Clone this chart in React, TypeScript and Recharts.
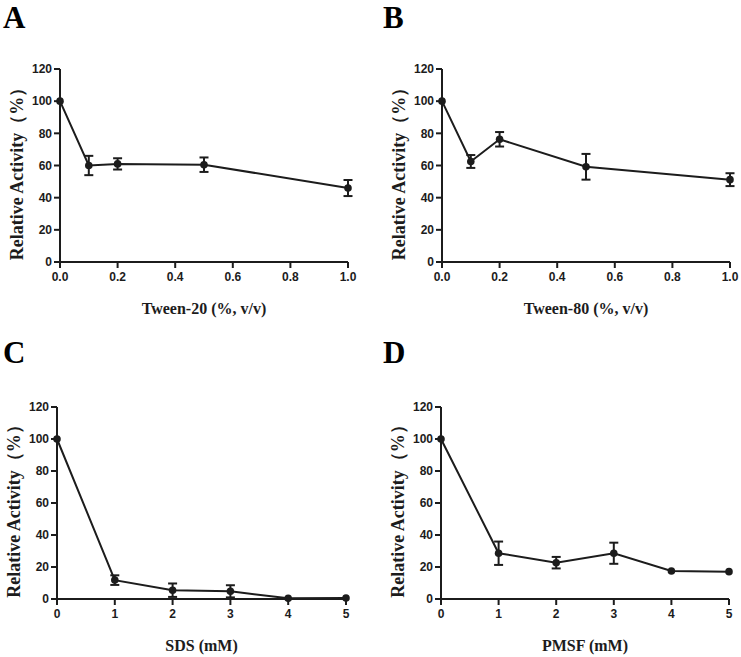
import { LineChart, Line, XAxis, YAxis, ErrorBar } from 'recharts';

// Panel A - Tween-20
const tween20X = [0, 0.1, 0.2, 0.5, 1.0];
const tween20Y = [100, 60, 61, 60.5, 46];
const tween20Err = [0, 6, 3.5, 4.5, 5];

// Panel B - Tween-80
const tween80X = [0, 0.1, 0.2, 0.5, 1.0];
const tween80Y = [100, 62.5, 76.3, 59.2, 51.2];
const tween80Err = [0, 4, 4.5, 8, 4];

// Panel C - SDS
const sdsX = [0, 1, 2, 3, 4, 5];
const sdsY = [100, 11.8, 5.5, 4.8, 0.4, 0.6];
const sdsErr = [0, 3, 4.2, 3.8, 0, 0];

// Panel D - PMSF
const pmsfX = [0, 1, 2, 3, 4, 5];
const pmsfY = [100, 28.6, 22.7, 28.6, 17.5, 17.1];
const pmsfErr = [0, 7.3, 3.6, 6.6, 0, 0];

const yTicks = [0, 20, 40, 60, 80, 100, 120];
const tweenTicks = [0, 0.2, 0.4, 0.6, 0.8, 1.0];
const mmTicks = [0, 1, 2, 3, 4, 5];

const INK = '#1c1c1c';
const SANS = '"Liberation Sans", Arial, sans-serif';
const SERIF = '"Liberation Serif", "Times New Roman", serif';

function makeRows(xs: number[], ys: number[], errs: number[]) {
  return xs.map((x, i) => ({ x, y: ys[i], err: errs[i] }));
}

type PanelProps = {
  rows: { x: number; y: number; err: number }[];
  xTicks: number[];
  xMax: number;
  decimals: number;
  xTitle: string;
  left: number;
  top: number;
  width: number;
  height: number;
  yAxisWidth: number;
  margin: { top: number; right: number; bottom: number; left: number };
  xAxisHeight: number;
};

function Panel(p: PanelProps) {
  const tickStyle = { fill: INK, fontSize: 12, fontWeight: 700, fontFamily: SANS };
  return (
    <div style={{ position: 'absolute', left: p.left, top: p.top }}>
      <LineChart width={p.width} height={p.height} data={p.rows} margin={p.margin}>
        <XAxis
          type="number"
          dataKey="x"
          domain={[0, p.xMax]}
          ticks={p.xTicks}
          tickFormatter={(v: number) => v.toFixed(p.decimals)}
          tick={tickStyle}
          tickMargin={4}
          height={p.xAxisHeight}
          axisLine={{ stroke: INK, strokeWidth: 2 }}
          tickLine={{ stroke: INK, strokeWidth: 2 }}
          label={{
            content: ({ viewBox }: any) => (
              <text
                x={viewBox.x + viewBox.width / 2}
                y={viewBox.y + 52}
                textAnchor="middle"
                fill={INK}
                fontFamily={SERIF}
                fontWeight={700}
                fontSize={16}
              >
                {p.xTitle}
              </text>
            ),
          }}
        />
        <YAxis
          type="number"
          domain={[0, 120]}
          ticks={yTicks}
          tick={tickStyle}
          width={p.yAxisWidth}
          axisLine={{ stroke: INK, strokeWidth: 2 }}
          tickLine={{ stroke: INK, strokeWidth: 2 }}
          label={{
            content: ({ viewBox }: any) => {
              const cx = viewBox.x + viewBox.width - 43;
              const cy = viewBox.y + viewBox.height / 2 + 4;
              return (
                <text
                  x={cx}
                  y={cy}
                  transform={`rotate(-90 ${cx} ${cy})`}
                  textAnchor="middle"
                  dominantBaseline="central"
                  fill={INK}
                  fontFamily={SERIF}
                  fontWeight={700}
                  fontSize={18}
                >
                  Relative Activity（%）
                </text>
              );
            },
          }}
        />
        <Line
          type="linear"
          dataKey="y"
          stroke={INK}
          strokeWidth={2}
          dot={{ r: 3.8, fill: INK, stroke: INK, strokeWidth: 0 }}
          activeDot={false}
          isAnimationActive={false}
        >
          <ErrorBar dataKey="err" direction="y" width={4.5} stroke={INK} strokeWidth={2} />
        </Line>
      </LineChart>
    </div>
  );
}

export default function App() {
  return (
    <div style={{ position: 'absolute', left: 0, top: 0, width: 741, height: 657, background: '#fff' }}>
      <Panel
        rows={makeRows(tween20X, tween20Y, tween20Err)}
        xTicks={tweenTicks}
        xMax={1}
        decimals={1}
        xTitle="Tween-20 (%, v/v)"
        left={0}
        top={0}
        width={370}
        height={330}
        yAxisWidth={60}
        xAxisHeight={60}
        margin={{ top: 69, right: 22, bottom: 8, left: 0 }}
      />
      <Panel
        rows={makeRows(tween80X, tween80Y, tween80Err)}
        xTicks={tweenTicks}
        xMax={1}
        decimals={1}
        xTitle="Tween-80 (%, v/v)"
        left={370}
        top={0}
        width={371}
        height={330}
        yAxisWidth={72}
        xAxisHeight={60}
        margin={{ top: 69, right: 11, bottom: 8, left: 0 }}
      />
      <Panel
        rows={makeRows(sdsX, sdsY, sdsErr)}
        xTicks={mmTicks}
        xMax={5}
        decimals={0}
        xTitle="SDS (mM)"
        left={0}
        top={330}
        width={370}
        height={327}
        yAxisWidth={57}
        xAxisHeight={48}
        margin={{ top: 77, right: 24, bottom: 10, left: 0 }}
      />
      <Panel
        rows={makeRows(pmsfX, pmsfY, pmsfErr)}
        xTicks={mmTicks}
        xMax={5}
        decimals={0}
        xTitle="PMSF (mM)"
        left={370}
        top={330}
        width={371}
        height={327}
        yAxisWidth={71}
        xAxisHeight={48}
        margin={{ top: 77, right: 12, bottom: 10, left: 0 }}
      />
      <svg width={741} height={657} style={{ position: 'absolute', left: 0, top: 0, pointerEvents: 'none' }}>
        <g fill="#000" fontFamily={SERIF} fontWeight={700} fontSize={31}>
          <text x={3} y={28}>A</text>
          <text x={383} y={28}>B</text>
          <text x={3} y={363}>C</text>
          <text x={383} y={363}>D</text>
        </g>
      </svg>
    </div>
  );
}
